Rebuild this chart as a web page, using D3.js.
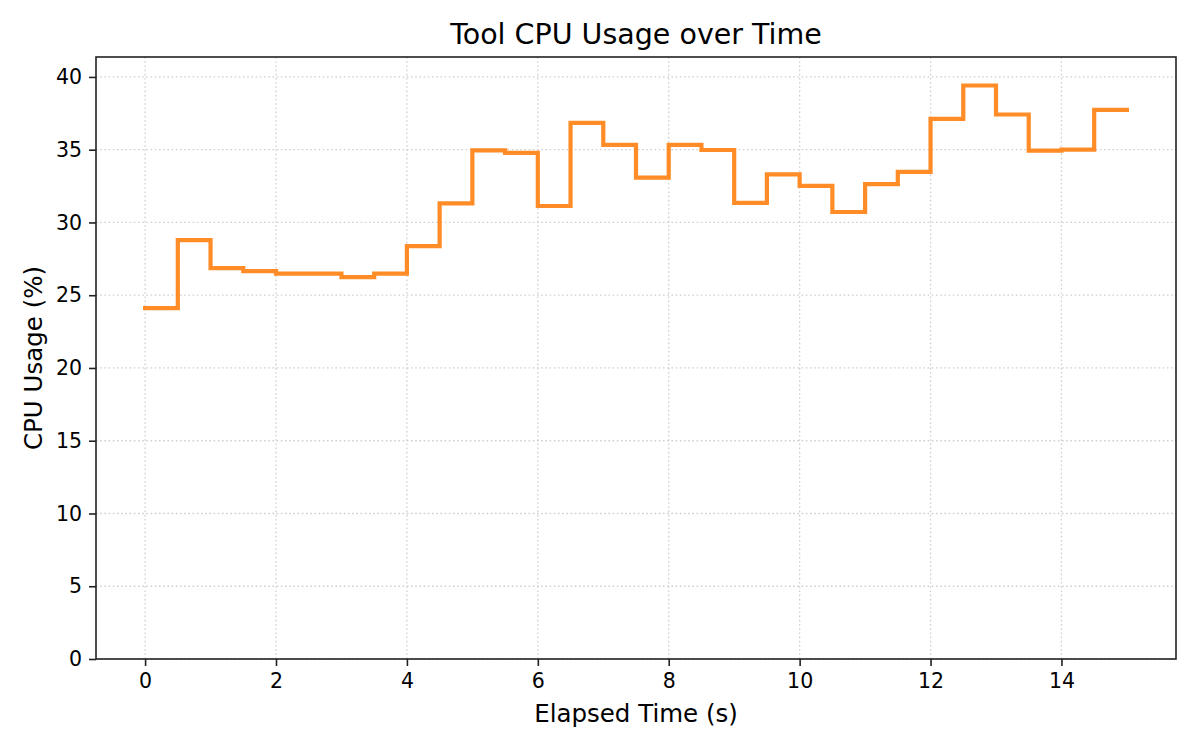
<html>
<head>
<meta charset="utf-8">
<script src="https://d3js.org/d3.v7.min.js"></script>
<style>
body { margin: 0; background: #fff; }
text { font-family: "DejaVu Sans", sans-serif; fill: #000; }
</style>
</head>
<body>
<div id="chart"></div>
<script>
// sampled every 0.5 s
var times = [0, 0.5, 1, 1.5, 2, 2.5, 3, 3.5, 4, 4.5, 5, 5.5, 6, 6.5, 7, 7.5,
             8, 8.5, 9, 9.5, 10, 10.5, 11, 11.5, 12, 12.5, 13, 13.5, 14, 14.5, 15]
var cpu = [24.11, 28.79, 26.86, 26.66, 26.48, 26.48, 26.24, 26.48, 28.38, 31.31,
           34.96, 34.78, 31.13, 36.84, 35.33, 33.08, 35.33, 34.98, 31.34, 33.31,
           32.51, 30.72, 32.64, 33.47, 37.12, 39.41, 37.42, 34.94, 35.01, 37.74, 37.74]
var xTicks = [0, 2, 4, 6, 8, 10, 12, 14]
var yTicks = [0, 5, 10, 15, 20, 25, 30, 35, 40]

var data = times.map((t, i) => [t, cpu[i]])

const w = 1200, h = 750
const padL = 96, padR = 1176, padT = 57, padB = 659

const svg = d3.select("#chart").append("svg")
  .attr("width", w)
  .attr("height", h)

const xscale = d3.scaleLinear().domain([-0.75, 15.75]).range([padL, padR])
const yscale = d3.scaleLinear().domain([0, 41.37]).range([padB, padT])

// grid
svg.append("g").selectAll("line").data(xTicks).enter().append("line")
  .attr("x1", d => xscale(d)).attr("x2", d => xscale(d))
  .attr("y1", padT).attr("y2", padB)
  .attr("stroke", "#cfcfcf").attr("stroke-width", 1.3).attr("stroke-dasharray", "1.6,2.6")
svg.append("g").selectAll("line").data(yTicks).enter().append("line")
  .attr("y1", d => yscale(d)).attr("y2", d => yscale(d))
  .attr("x1", padL).attr("x2", padR)
  .attr("stroke", "#cfcfcf").attr("stroke-width", 1.3).attr("stroke-dasharray", "1.6,2.6")

// step line
const line = d3.line()
  .x(d => xscale(d[0]))
  .y(d => yscale(d[1]))
  .curve(d3.curveStepAfter)

svg.append("path")
  .datum(data)
  .attr("d", line)
  .attr("fill", "none")
  .attr("stroke", "#ff7f0e")
  .attr("stroke-opacity", 0.9)
  .attr("stroke-width", 4.2)
  .attr("stroke-linecap", "square")

// axes
const xAxis = d3.axisBottom(xscale).tickValues(xTicks).tickSize(7).tickPadding(7)
const yAxis = d3.axisLeft(yscale).tickValues(yTicks).tickSize(7).tickPadding(7)

const gx = svg.append("g").attr("transform", "translate(0," + padB + ")").call(xAxis)
const gy = svg.append("g").attr("transform", `translate(${padL},0)`).call(yAxis)
for (const g of [gx, gy]) {
  g.select(".domain").remove()
  g.selectAll(".tick line").attr("stroke", "#222").attr("stroke-width", 1.6)
  g.selectAll(".tick text").attr("font-size", 20.5).attr("font-family", "DejaVu Sans").attr("fill", "#000")
}

// frame
svg.append("rect")
  .attr("x", padL).attr("y", padT)
  .attr("width", padR - padL).attr("height", padB - padT)
  .attr("fill", "none").attr("stroke", "#222").attr("stroke-width", 1.6)

// labels
svg.append("text")
  .attr("x", (padL + padR) / 2).attr("y", 44)
  .attr("text-anchor", "middle").attr("font-size", 28.5)
  .text("Tool CPU Usage over Time")
svg.append("text")
  .attr("x", (padL + padR) / 2).attr("y", 722)
  .attr("text-anchor", "middle").attr("font-size", 24.5)
  .text("Elapsed Time (s)")
svg.append("text")
  .attr("transform", `translate(42,${(padT + padB) / 2}) rotate(-90)`)
  .attr("text-anchor", "middle").attr("font-size", 24.5)
  .text("CPU Usage (%)")
</script>
</body>
</html>
